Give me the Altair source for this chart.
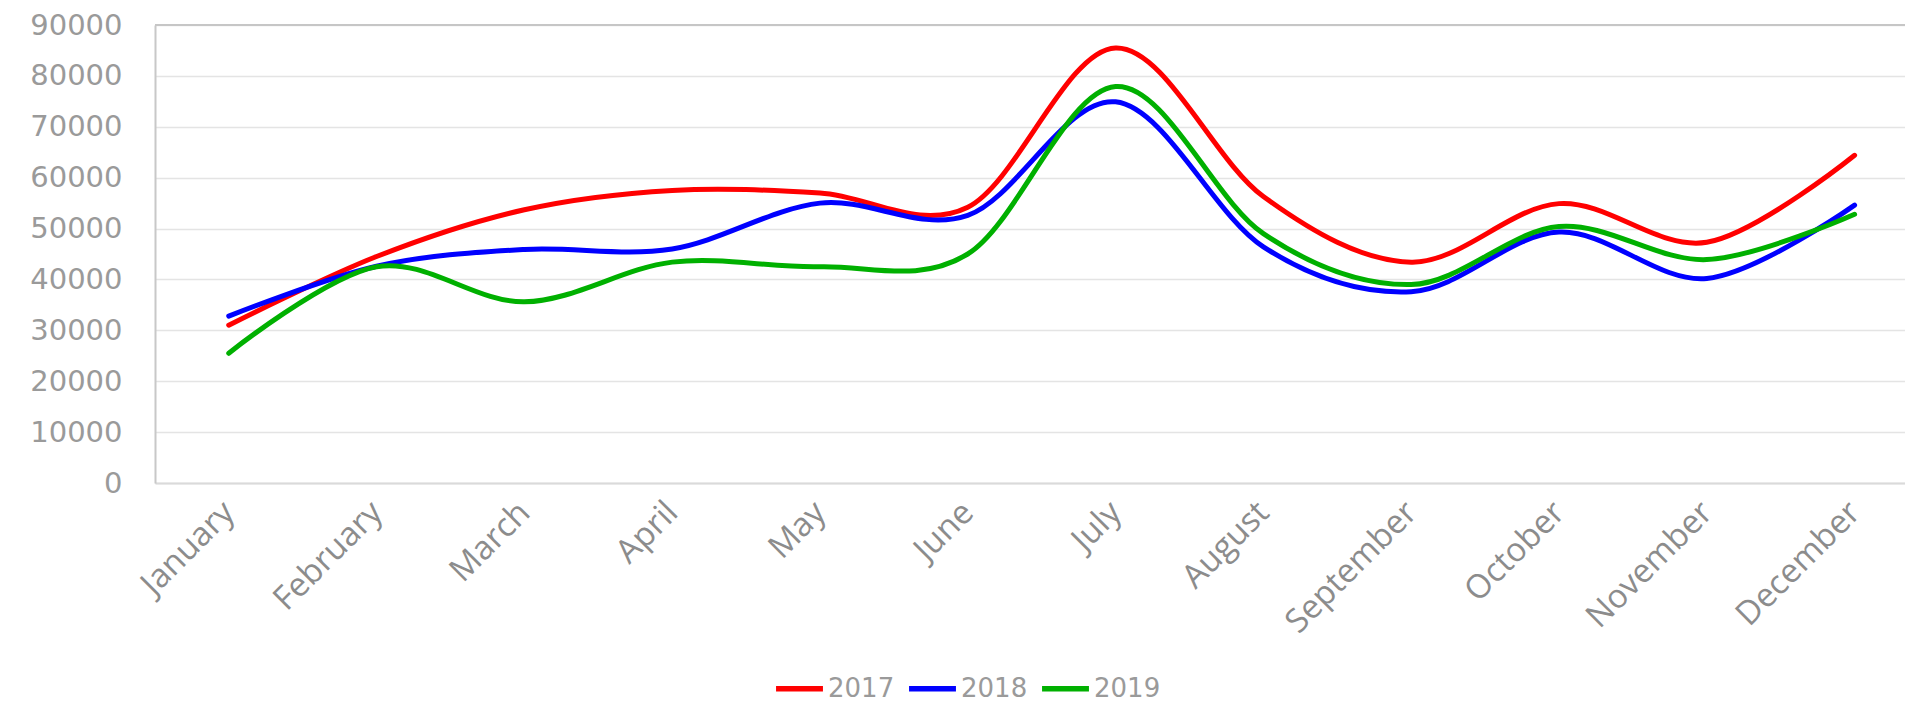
import altair as alt
import pandas as pd

months = ["January", "February", "March", "April", "May", "June", "July",
          "August", "September", "October", "November", "December"]
years = ["2017", "2018", "2019"]
sales_2017 = [31000, 44500, 53700, 57500, 57000, 54200, 85500, 56300, 43400, 54900, 47300, 64400]
sales_2018 = [32800, 42600, 45900, 46000, 55000, 52600, 74900, 46400, 37600, 49300, 40200, 54600]
sales_2019 = [25500, 42500, 35600, 43400, 42500, 45000, 77900, 49000, 39000, 50400, 43900, 52800]
colors = ["#FF0000", "#0000FF", "#00B000"]
y_ticks = [0, 10000, 20000, 30000, 40000, 50000, 60000, 70000, 80000, 90000]

rows = []
for yr, vals in zip(years, [sales_2017, sales_2018, sales_2019]):
    for m, v in zip(months, vals):
        rows.append({"month": m, "year": yr, "value": v})
df = pd.DataFrame(rows)

lines = alt.Chart(df).mark_line(
    interpolate="cardinal", strokeWidth=5, strokeCap="round", strokeJoin="round"
).encode(
    x=alt.X("month:N", sort=months,
            scale=alt.Scale(type="point", padding=0.42, align=0.594),
            axis=alt.Axis(title=None, labelAngle=-45, labelAlign="right",
                          labelBaseline="middle", labelPadding=24,
                          labelFont="Open Sans", labelFontSize=33,
                          labelColor="#8c8c8c", ticks=False, grid=False,
                          domainColor="#dadada", domainWidth=2)),
    y=alt.Y("value:Q", scale=alt.Scale(domain=[0, 90000], nice=False),
            axis=alt.Axis(title=None, values=y_ticks, format="d",
                          labelFont="DejaVu Sans", labelFontSize=29,
                          labelColor="#9a9a9a", labelPadding=33, ticks=False,
                          domainColor="#c8c8c8", domainWidth=2,
                          gridColor="#e4e4e4", gridWidth=1.5)),
    color=alt.Color("year:N", scale=alt.Scale(domain=years, range=colors),
                    legend=alt.Legend(title=None, orient="none", direction="horizontal",
                                      legendX=618, legendY=637, padding=0,
                                      symbolType="stroke", symbolSize=2200,
                                      symbolStrokeWidth=5.5, labelFont="DejaVu Sans",
                                      labelFontSize=26, labelColor="#9a9a9a",
                                      labelOffset=2, columnPadding=3)),
)

top = alt.Chart(pd.DataFrame({"v": [90000]})).mark_rule(
    color="#c6c6c6", strokeWidth=2
).encode(y="v:Q")

chart = alt.layer(top, lines).properties(
    width=1750, height=458,
    autosize=alt.AutoSizeParams(type="none"),
    padding={"left": 147, "top": 17, "right": 0, "bottom": 221},
).configure_view(stroke=None)

chart.save("out.html", embed_options={"renderer": "svg", "actions": False})
